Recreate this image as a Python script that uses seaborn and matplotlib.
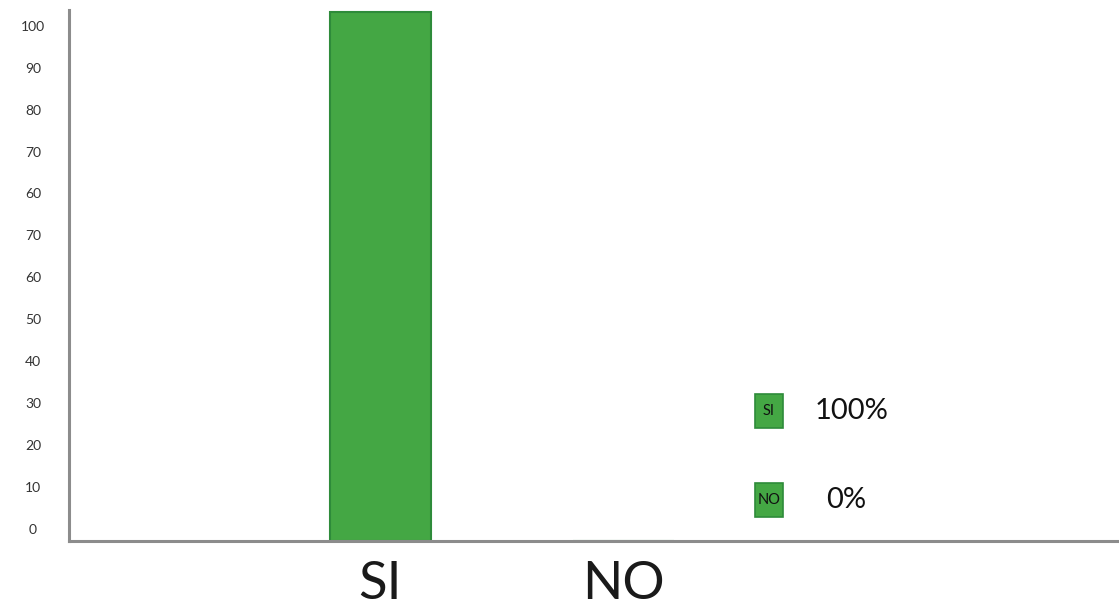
import matplotlib
matplotlib.use("Agg")
import matplotlib.pyplot as plt
from matplotlib.patches import Rectangle
import seaborn as sns
import numpy as np
import pandas as pd

categories = ["SI", "NO"]
values = [100, 0]
pct_labels = ["100%", "0%"]
ytick_labels = ["0", "10", "20", "30", "40", "50", "60", "70", "60", "70", "80", "90", "100"]

GREEN = "#44a744"
EDGE = "#2e8b3a"

sns.set_theme(style="white")
plt.rcParams["font.family"] = ["Lato", "DejaVu Sans"]

fig = plt.figure(figsize=(11.19, 6.14), dpi=100)
ax = fig.add_axes([69/1119, 73/614, 1 - 69/1119, (541-10)/614])

df = pd.DataFrame({"cat": categories, "val": values})
sns.barplot(data=df, x="cat", y="val", color=GREEN, width=0.415,
            saturation=1, edgecolor=EDGE, linewidth=1.5, ax=ax)

ax.set_xlim(-1.28, 3.04)
ax.set_ylim(0, 100.2 * 531/530)

ytick_pos = np.linspace(2.3, 97.4, len(ytick_labels))
ax.set_yticks(ytick_pos)
ax.set_yticklabels(ytick_labels, fontsize=10, color="#333333")
for lbl in ax.get_yticklabels():
    lbl.set_horizontalalignment("center")
ax.tick_params(axis="y", length=0, pad=26)
ax.tick_params(axis="x", length=0, pad=42)
for lbl in ax.get_xticklabels():
    lbl.set_fontsize(38)
    lbl.set_fontweight("normal")
    lbl.set_color("#1a1a1a")
    lbl.set_verticalalignment("baseline")
ax.set_xlabel("")
ax.set_ylabel("")

for s in ["top", "right"]:
    ax.spines[s].set_visible(False)
for s in ["left", "bottom"]:
    ax.spines[s].set_color("#8c8c8c")
    ax.spines[s].set_linewidth(2.2)

# legend-like labels
legend_y = [411, 500]
pct_x = [815, 826]
for cat, pct, yy, px in zip(categories, pct_labels, legend_y, pct_x):
    fig.add_artist(Rectangle((755/1119, 1 - (yy + 17)/614), 28/1119, 34/614,
                             transform=fig.transFigure, facecolor=GREEN,
                             edgecolor=EDGE, linewidth=1.2))
    fig.text(769/1119, 1 - yy/614, cat, ha="center", va="center", fontsize=10.5,
             color="#111111")
    fig.text(px/1119, 1 - yy/614, pct, ha="left", va="center",
             fontsize=21, fontweight="normal", color="#111111")

fig.savefig("out.png", dpi=100, facecolor="white")
